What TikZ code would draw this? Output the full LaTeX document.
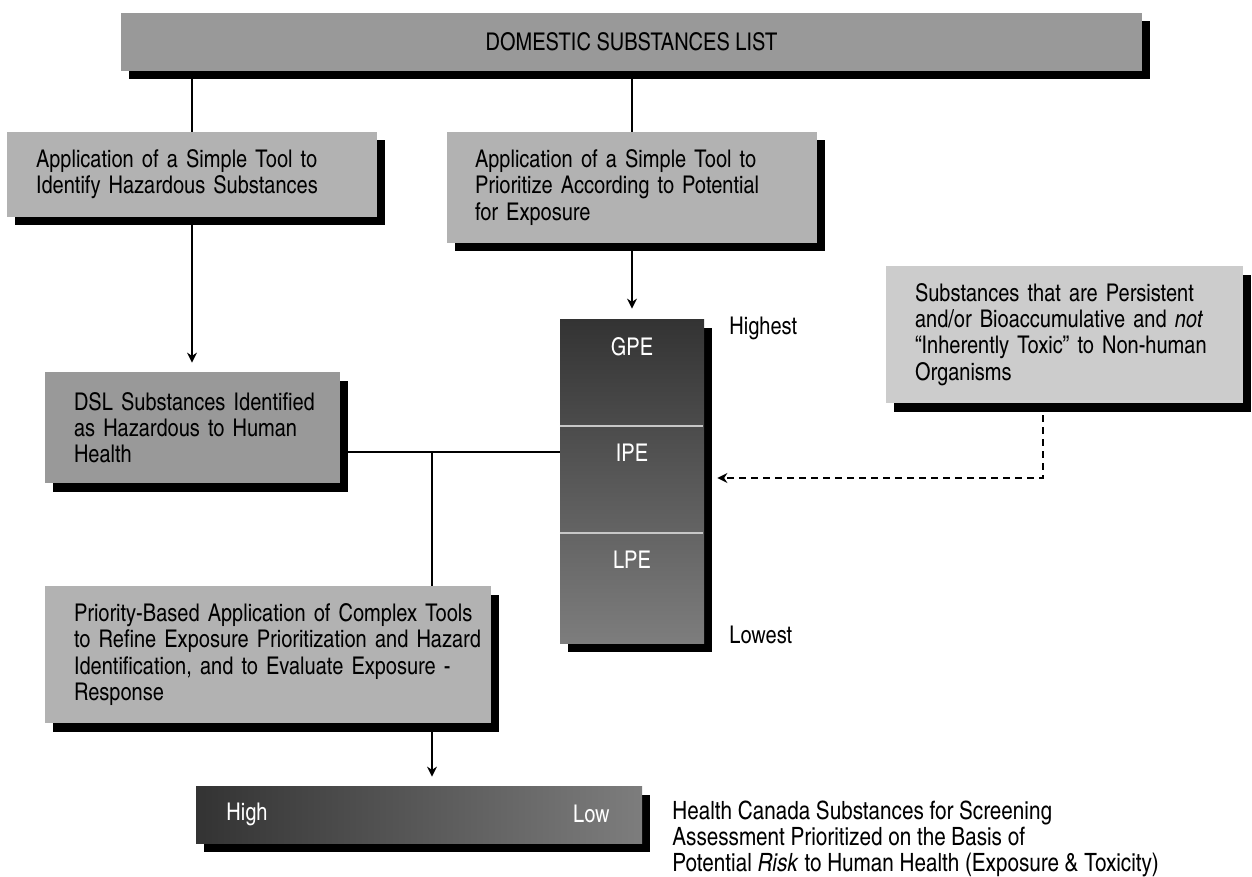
\documentclass[tikz,border=0pt]{standalone}
\usepackage{fontspec}
\setmainfont{TeX Gyre Heros Cn}
\usetikzlibrary{shadows,arrows.meta,backgrounds}

\definecolor{boxdark}{gray}{0.60}
\definecolor{boxmid}{gray}{0.70}
\definecolor{boxlight}{gray}{0.80}
\definecolor{shadetop}{gray}{0.20}
\definecolor{shadebot}{gray}{0.49}
\definecolor{divider}{gray}{0.78}

\newcommand\boxfont{\fontsize{12.2}{13.1}\selectfont}
\newcommand\notefont{\fontsize{12.6}{13.2}\selectfont}

\tikzset{
  shadowed/.style={drop shadow={shadow xshift=4pt,shadow yshift=-4.25pt,fill=black,opacity=1}},
  stepbox/.style={shadowed, rectangle, inner ysep=0pt, align=left, font=\boxfont, text=black},
  lbl/.style={font=\boxfont, inner sep=0pt},
  conn/.style={line width=0.65pt, draw=black},
  arrow/.style={conn, -{Stealth[length=5pt,width=5pt]}},
  dasharrow/.style={arrow, dash pattern=on 3.5pt off 2.5pt},
}

\begin{document}
\begin{tikzpicture}[x=0.5pt,y=-0.5pt]
\useasboundingbox (0,0) rectangle (1252,877);

% --- boxes ---
\node[stepbox, fill=boxdark, minimum width=510.5pt, minimum height=29pt, align=center]
  (top) at (631.5,42) {DOMESTIC SUBSTANCES LIST};

\node[stepbox, fill=boxmid, minimum width=185pt, minimum height=42.5pt,
      text width=156pt, inner xsep=14.5pt] (box1) at (192,174.5)
  {\mbox{Application of a Simple Tool to}\\\mbox{Identify Hazardous Substances}};

\node[stepbox, fill=boxmid, minimum width=185pt, minimum height=55.5pt,
      text width=157pt, inner xsep=14pt] (box2) at (632,187.5)
  {\mbox{Application of a Simple Tool to}\\\mbox{Prioritize According to Potential}\\\mbox{for Exposure}};

\node[stepbox, fill=boxdark, minimum width=147.5pt, minimum height=55.5pt,
      text width=118.5pt, inner xsep=14.5pt] (dsl) at (192.5,427.5)
  {\mbox{DSL Substances Identified}\\\mbox{as Hazardous to Human}\\\mbox{Health}};

\node[stepbox, fill=boxmid, minimum width=223pt, minimum height=68.5pt,
      text width=194pt, inner xsep=14.5pt] (prio) at (268,654.5)
  {\mbox{Priority-Based Application of Complex Tools}\\\mbox{to Refine Exposure Prioritization and Hazard}\\\mbox{Identification, and to Evaluate Exposure -}\\\mbox{Response}};

\node[stepbox, fill=boxlight, minimum width=178.5pt, minimum height=68.5pt,
      text width=149.5pt, inner xsep=14.5pt] (persist) at (1064.5,334.5)
  {\mbox{Substances that are Persistent}\\\mbox{and/or Bioaccumulative and \textit{not}}\\\mbox{“Inherently Toxic” to Non-human}\\\mbox{Organisms}};

% --- exposure potential column ---
\node[shadowed, rectangle, top color=shadetop, bottom color=shadebot, draw=none,
      minimum width=72pt, minimum height=162pt, inner sep=0pt] (col) at (632,481) {};
\coordinate (d1) at (632,426);
\coordinate (d2) at (632,533);
\draw[divider, line width=0.6pt] (col.west |- d1) -- ([xshift=-0.5pt]col.east |- d1);
\draw[divider, line width=0.6pt] (col.west |- d2) -- ([xshift=-0.5pt]col.east |- d2);
\node[lbl, text=white] (gpe) at (632,347) {GPE};
\node[lbl, text=white] (ipe) at (632,453) {IPE};
\node[lbl, text=white] (lpe) at (632,560) {LPE};
\node[lbl, anchor=west] (highest) at (729,328) {Highest};
\node[lbl, anchor=west] (lowest) at (729,635) {Lowest};

% --- risk bar ---
\node[shadowed, rectangle, left color=shadetop, right color=shadebot, draw=none,
      minimum width=223pt, minimum height=28.5pt, inner sep=0pt] (bar) at (419,814.5) {};
\node[lbl, text=white, anchor=west] (high) at (226,814) {High};
\node[lbl, text=white, anchor=east] (low) at (610,814) {Low};
\node[lbl, font=\notefont, anchor=west, align=left] (caption) at (672,839)
  {Health Canada Substances for Screening\\Assessment Prioritized on the Basis of\\Potential \textit{Risk} to Human Health (Exposure \& Toxicity)};

% --- connectors ---
\coordinate (jn) at (432,452);
\coordinate (dn) at (1043,478);
\begin{scope}[on background layer]
  \draw[conn] (top.south -| box1.north) -- (box1.north);
  \draw[conn] (top.south -| box2.north) -- (box2.north);
  \draw[arrow, shorten >=4.5pt] (box1.south) -- (box1.south |- dsl.north);
  \draw[arrow, shorten >=5pt] (box2.south) -- (col.north);
  \draw[conn] (dsl.east |- jn) -- (col.west |- jn);
  \draw[conn] (jn) -- (prio.north -| jn);
  \draw[arrow, shorten >=4.5pt] (prio.south -| jn) -- (bar.north -| jn);
  \draw[dasharrow, shorten >=6.5pt] (persist.south -| dn) -- (dn) -- (col.east |- dn);
\end{scope}
\end{tikzpicture}
\end{document}
